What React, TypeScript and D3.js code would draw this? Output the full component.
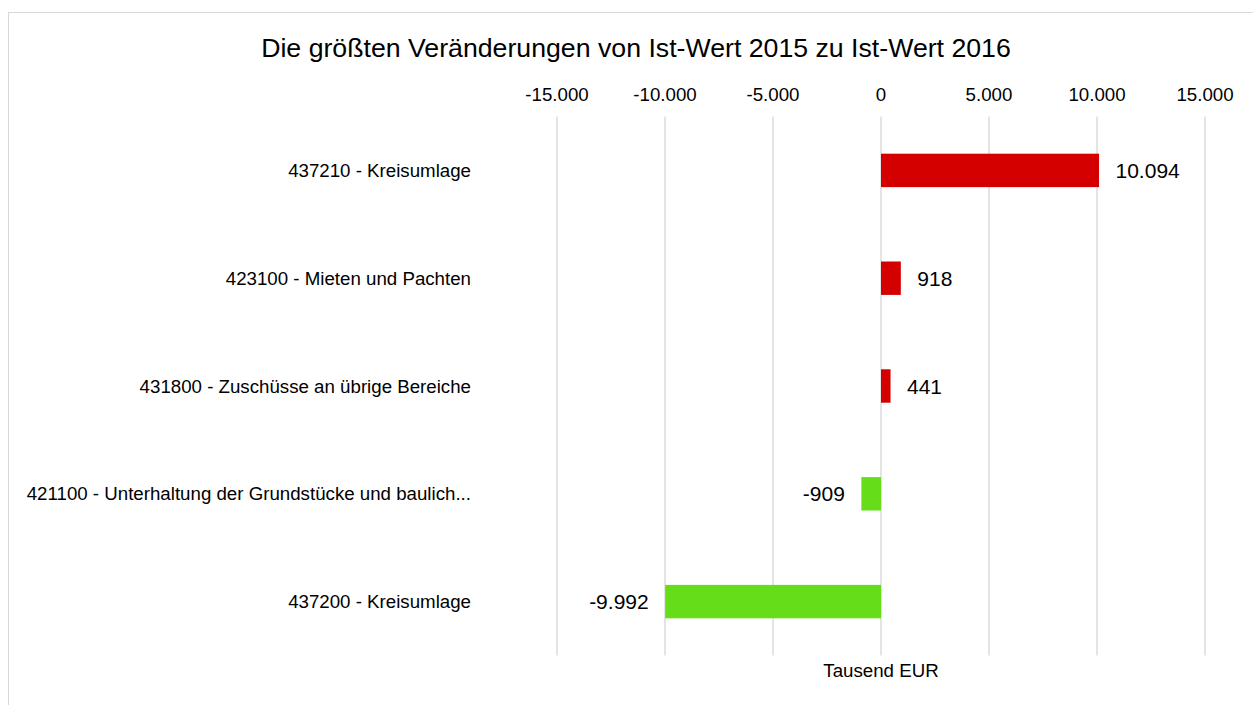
import React from "react";
import * as d3 from "d3";

const categories = [
  "437210 - Kreisumlage",
  "423100 - Mieten und Pachten",
  "431800 - Zuschüsse an übrige Bereiche",
  "421100 - Unterhaltung der Grundstücke und baulich...",
  "437200 - Kreisumlage",
];
const values = [10094, 918, 441, -909, -9992];
const tickValues = [-15000, -10000, -5000, 0, 5000, 10000, 15000];
const title = "Die größten Veränderungen von Ist-Wert 2015 zu Ist-Wert 2016";
const axisTitle = "Tausend EUR";

const W = 1253;
const H = 705;
const FONT = "'Liberation Sans', Arial, sans-serif";
const RED = "#D40000";
const GREEN = "#66DD19";
const GRID = "#D9D9D9";

const de = d3.formatLocale({
  decimal: ",",
  thousands: ".",
  grouping: [3],
  currency: ["", " €"],
  minus: "-",
});
const fmt = de.format(",d");

export default function App() {
  const x = d3.scaleLinear().domain([-15000, 15000]).range([557, 1205]);
  const y = d3
    .scaleBand<string>()
    .domain(categories)
    .range([116.5, 655.5])
    .paddingInner(0.69)
    .paddingOuter(0.345);
  const bw = y.bandwidth();

  return (
    <svg
      width={W}
      height={H}
      style={{ position: "absolute", left: 0, top: 0, background: "#fff" }}
      fontFamily={FONT}
    >
      <rect x={0} y={0} width={W} height={H} fill="#fff" />
      <rect x={8.5} y={12.5} width={1400} height={900} fill="none" stroke={GRID} strokeWidth={1} />
      <text x={636} y={57} textAnchor="middle" fontSize={26.7} fill="#000">
        {title}
      </text>
      {tickValues.map((t) => (
        <g key={t}>
          <line x1={x(t)} x2={x(t)} y1={116.5} y2={655.5} stroke={GRID} strokeWidth={1.4} />
          <text x={x(t)} y={101} textAnchor="middle" fontSize={18.7} fill="#000">
            {fmt(t)}
          </text>
        </g>
      ))}
      {categories.map((c, i) => {
        const v = values[i];
        const y0 = y(c)!;
        const cy = y0 + bw / 2;
        const x0 = x(Math.min(0, v));
        const x1 = x(Math.max(0, v));
        return (
          <g key={c}>
            <rect x={x0} y={y0} width={x1 - x0} height={bw} fill={v >= 0 ? RED : GREEN} />
            <text x={471} y={cy} dy="0.35em" textAnchor="end" fontSize={18.7} fill="#000">
              {c}
            </text>
            <text
              x={v >= 0 ? x1 + 16.5 : x0 - 16.5}
              y={cy}
              dy="0.36em"
              textAnchor={v >= 0 ? "start" : "end"}
              fontSize={21}
              fill="#000"
            >
              {fmt(v)}
            </text>
          </g>
        );
      })}
      <text x={881} y={677} textAnchor="middle" fontSize={18.7} fill="#000">
        {axisTitle}
      </text>
    </svg>
  );
}
